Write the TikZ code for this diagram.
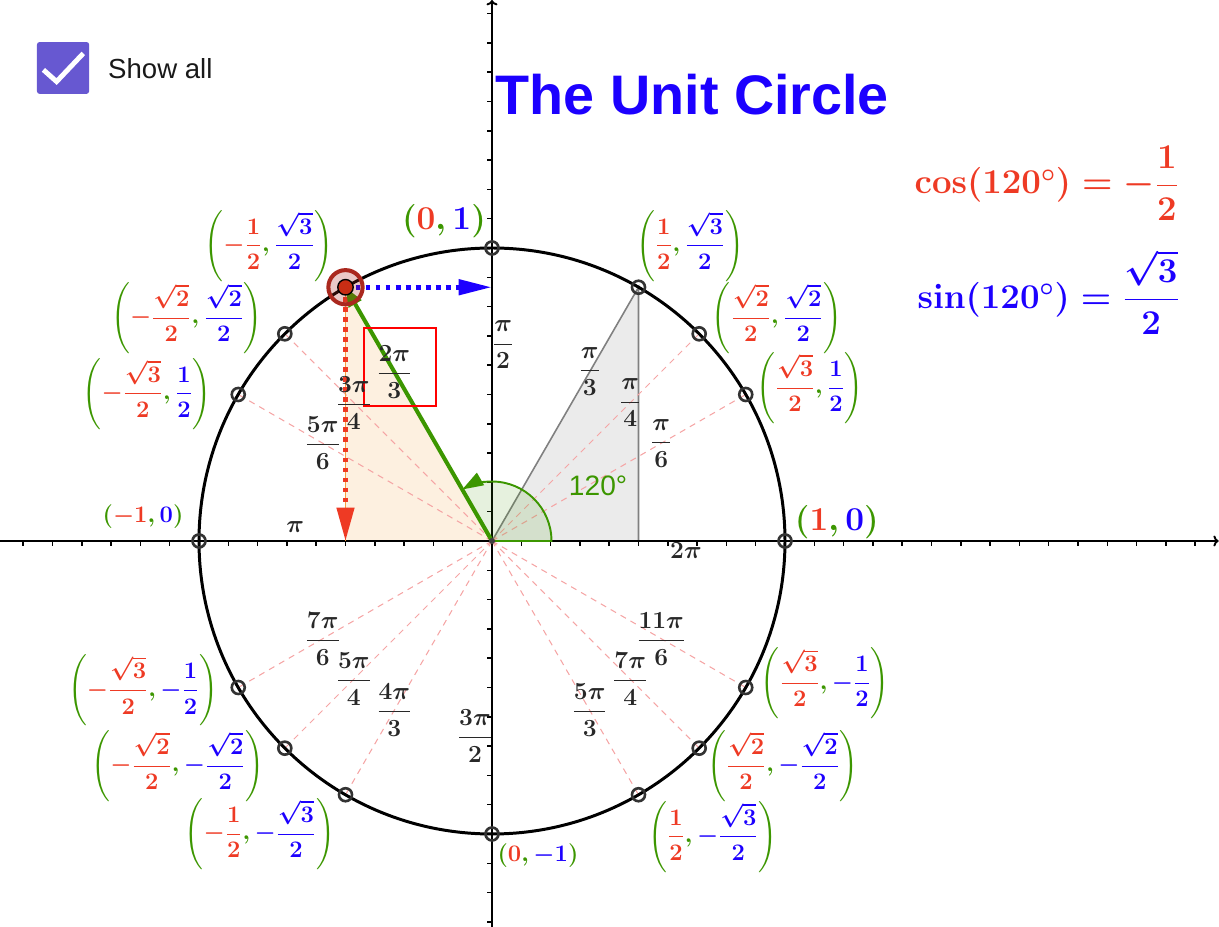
\RequirePackage{fix-cm}
\documentclass[tikz,border=0pt]{standalone}
\usepackage{amsmath,amssymb}
\usepackage[no-math]{fontspec}
\newfontfamily\arial{Liberation Sans}
\usetikzlibrary{arrows.meta}

\definecolor{ggreen}{RGB}{60,150,0}
\definecolor{cred}{RGB}{238,58,36}
\definecolor{cblue}{RGB}{28,0,255}
\definecolor{boxpurple}{RGB}{103,88,209}
\definecolor{ptred}{RGB}{170,40,30}
\definecolor{ptdot}{RGB}{200,45,20}
\definecolor{orangefill}{RGB}{253,240,224}
\definecolor{droporange}{RGB}{250,160,60}
\definecolor{grayfill}{RGB}{235,235,235}
\definecolor{dashpink}{RGB}{245,165,165}
\definecolor{labelgray}{RGB}{40,40,40}

\newcommand{\cpair}[2]{$\displaystyle\left({\color{cred}#1},{\color{cblue}#2}\right)$}

\begin{document}
\begin{tikzpicture}[x=5.86cm,y=5.86cm,
    ang/.style={text=labelgray,font=\fontsize{14}{17}\selectfont\boldmath},
    crd/.style={text=ggreen,font=\fontsize{13.5}{16}\selectfont\boldmath},
    bigcrd/.style={text=ggreen,font=\fontsize{19}{23}\selectfont\boldmath},
    ray/.style={dashpink,line width=0.6pt,dash pattern=on 3.5pt off 3pt},
    upoint/.style={circle,draw=black!80,line width=1.5pt,inner sep=0pt,minimum size=7.4pt}]

\useasboundingbox (-1.6792,-1.3174) rectangle (2.4812,1.8464);

\coordinate (O) at (0,0);
\foreach \a in {0,30,45,60,90,120,135,150,180,210,225,240,270,300,315,330}
  \coordinate (c\a) at (\a:1);

% triangles for 60 and 120 degrees
\fill[orangefill] (O) -- (c120) -- (c120 |- O) -- cycle;
\filldraw[fill=grayfill,draw=gray,line width=0.9pt] (O) -- (c60) -- (c60 |- O);

\foreach \a in {30,45,135,150,210,225,240,300,315,330}
  \draw[ray] (O) -- (c\a);

% axes
\draw[line width=1.1pt,-{To[length=3pt]}] (-1.68,0) -- (2.48,0);
\draw[line width=1.1pt,-{To[length=3pt]}] (0,-1.318) -- (0,1.846);
\foreach \i in {-16,...,24}
  \draw[line width=0.9pt] (\i/10,0) -- ++(0,-0.017);
\foreach \i in {-13,...,18}
  \draw[line width=0.9pt] (0,\i/10) -- ++(-0.017,0);

\draw[line width=1.7pt] (O) circle (1);

% angle
\fill[ggreen,fill opacity=0.13] (O) -- (0.203,0) arc (0:120:0.203) -- cycle;
\draw[ggreen,line width=1.1pt,-{Triangle[length=12pt,width=8pt]}] (O) -- (0.203,0) arc (0:120:0.203);

% projections
\draw[droporange,line width=0.85pt] (c120) -- (c120 |- O);
\draw[cred,line width=2.5pt,dash pattern=on 2.5pt off 3.2pt,-{Triangle[length=19pt,width=9.7pt]}] (c120) -- (c120 |- O);
\draw[cblue,line width=2.8pt,dash pattern=on 2.8pt off 2.9pt,-{Triangle[length=19pt,width=8.5pt]}] (c120) -- (c120 -| O);
\draw[ggreen,line width=2.3pt,-{Triangle[length=11pt,width=8pt]}] (O) -- (c120);

% points
\foreach \a in {0,30,45,60,90,135,150,180,210,225,240,270,300,315,330}
  \node[upoint] (p\a) at (c\a) {};
\node[circle,fill=black!75,inner sep=0pt,minimum size=3.5pt] (po) at (O) {};
\node[circle,draw=ptred,line width=2.3pt,fill=ptred,fill opacity=0.25,draw opacity=1,inner sep=0pt,minimum size=19.5pt] (ring) at (c120) {};
\node[circle,draw=black,line width=0.8pt,fill=ptdot,inner sep=0pt,minimum size=8.8pt] (p120) at (c120) {};

\draw[red,line width=1.1pt] (-0.437,0.727) rectangle (-0.191,0.461);

% angle labels
\foreach \a/\n/\d in {30/\pi/6,45/\pi/4,60/\pi/3,120/2\pi/3,135/3\pi/4,150/5\pi/6,
    210/7\pi/6,225/5\pi/4,240/4\pi/3,300/5\pi/3,315/7\pi/4,330/11\pi/6}
  \node[ang] (a\a) at (\a:0.667) {$\dfrac{\n}{\d}$};
\node[ang] (a90) at (0.038,0.669) {$\dfrac{\pi}{2}$};
\node[ang] (a180) at (-0.672,0.048) {$\pi$};
\node[ang] (a360) at (0.662,-0.034) {$2\pi$};
\node[ang] (a270) at (-0.058,-0.666) {$\dfrac{3\pi}{2}$};

% coordinates
\node[bigcrd] (q0) at (1.177,0.065) {\cpair{1}{0}};
\node[bigcrd] (q90) at (-0.164,1.092) {\cpair{0}{1}};
\node[crd] (q180) at (-1.191,0.085) {\cpair{-1}{0}};
\node[crd] (q270) at (0.157,-1.075) {\cpair{0}{-1}};
\node[crd] (q30) at (1.085,0.522) {\cpair{\dfrac{\sqrt{3}}{2}}{\dfrac{1}{2}}};
\node[crd] (q45) at (0.973,0.761) {\cpair{\dfrac{\sqrt{2}}{2}}{\dfrac{\sqrt{2}}{2}}};
\node[crd] (q60) at (0.676,1.007) {\cpair{\dfrac{1}{2}}{\dfrac{\sqrt{3}}{2}}};
\node[crd] (q120) at (-0.761,1.007) {\cpair{-\dfrac{1}{2}}{\dfrac{\sqrt{3}}{2}}};
\node[crd] (q135) at (-1.041,0.761) {\cpair{-\dfrac{\sqrt{2}}{2}}{\dfrac{\sqrt{2}}{2}}};
\node[crd] (q150) at (-1.177,0.502) {\cpair{-\dfrac{\sqrt{3}}{2}}{\dfrac{1}{2}}};
\node[crd] (q210) at (-1.191,-0.509) {\cpair{-\dfrac{\sqrt{3}}{2}}{-\dfrac{1}{2}}};
\node[crd] (q225) at (-1.072,-0.768) {\cpair{-\dfrac{\sqrt{2}}{2}}{-\dfrac{\sqrt{2}}{2}}};
\node[crd] (q240) at (-0.792,-1.0) {\cpair{-\dfrac{1}{2}}{-\dfrac{\sqrt{3}}{2}}};
\node[crd] (q300) at (0.754,-1.010) {\cpair{\dfrac{1}{2}}{-\dfrac{\sqrt{3}}{2}}};
\node[crd] (q315) at (0.993,-0.768) {\cpair{\dfrac{\sqrt{2}}{2}}{-\dfrac{\sqrt{2}}{2}}};
\node[crd] (q330) at (1.137,-0.485) {\cpair{\dfrac{\sqrt{3}}{2}}{-\dfrac{1}{2}}};

\node[text=ggreen,font=\fontsize{16}{19}\selectfont\arial] (deg) at (0.362,0.188) {120°};

% title and values
\node[anchor=base west,inner sep=0pt,text=cblue,font=\fontsize{31.7}{36}\selectfont\arial\bfseries] (title) at (0.012,1.454) {The Unit Circle};
\node[anchor=east,inner sep=0pt,text=cred,font=\fontsize{19.8}{24}\selectfont\boldmath] (cosf) at (2.345,1.222) {$\cos(120^\circ)=-\dfrac{1}{2}$};
\node[anchor=east,inner sep=0pt,text=cblue,font=\fontsize{19.8}{24}\selectfont\boldmath] (sinf) at (2.348,0.850) {$\sin(120^\circ)=\dfrac{\sqrt{3}}{2}$};

% check box
\fill[boxpurple,rounded corners=1.5pt] (-1.553,1.703) rectangle (-1.375,1.526);
\draw[white,line width=2.8pt] (-1.531,1.608) -- (-1.486,1.568) -- (-1.395,1.664);
\node[anchor=base west,inner sep=0pt,text=black!90,font=\fontsize{15.7}{18}\selectfont\arial] (showall) at (-1.311,1.580) {Show all};
\end{tikzpicture}
\end{document}
